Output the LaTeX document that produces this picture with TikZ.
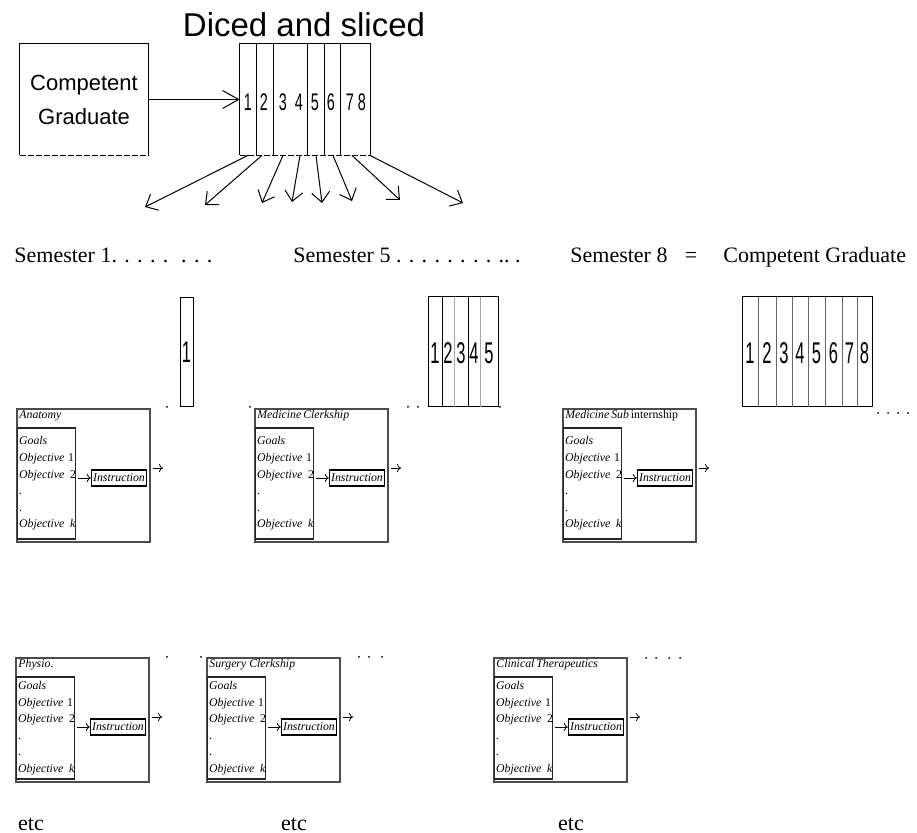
\documentclass[tikz,border=0pt]{standalone}
\usepackage{fontspec}
\setmainfont{Liberation Serif}
\newfontfamily\arialfont{Liberation Sans}
\usepackage{graphicx}
\usetikzlibrary{arrows.meta}

\newcommand{\boxfont}{\fontsize{5.9}{8.3}\selectfont\itshape}
\newcommand{\narrow}[2][0.6]{\scalebox{#1}[1]{#2}}
% one course: name, x, y, height, title
\newcommand{\course}[5]{%
  \node[coursebox, minimum height={#4*0.5pt}, anchor=north west] (#1) at (#2,#3) {};
  \node[font=\boxfont, anchor=base west, inner sep=0pt] (#1-t) at (#2+3,#3+11) {#5};
  \node[goalsbox, minimum height={(#4-22)*0.5pt}, anchor=north west] (#1-g) at (#2+1,#3+19.5)
    {Goals\\Objective~{\upshape 1}\\Objective~\,{\upshape 2}\\{\upshape .}\\{\upshape .}\\Objective~\,k};
  \node[instrbox] (#1-i) at (#2+103,#3+70) {Instruction};
  \coordinate (#1-o) at (#2+147,#3+60);
  \draw[smallarrow] (#1-g.east |- #1-i) -- (#1-i.west);
  \draw[smallarrow] (#1.east |- #1-o) -- (#1-o);
}

\begin{document}
\begin{tikzpicture}[x=0.5pt, y=-0.5pt,
  barb/.style={-{Straight Barb[length=5pt,width=9pt]}, line width=.5pt},
  smallarrow/.style={-{Computer Modern Rightarrow[length=2pt,width=4pt]}, line width=.4pt, shorten <=1pt},
  coursebox/.style={draw=black!70, line width=1pt, minimum width=66.5pt, inner sep=0pt},
  goalsbox/.style={draw=black!85, line width=.6pt, font=\boxfont, align=left, text width=27.5pt, inner xsep=.75pt, inner ysep=0pt},
  instrbox/.style={draw, line width=.7pt, font=\boxfont, inner xsep=.8pt, inner ysep=0pt, minimum height=8pt},
  digit/.style={font=\arialfont\fontsize{12}{12}\selectfont, inner sep=0pt},
  bigdigit/.style={font=\arialfont\fontsize{15}{15}\selectfont, inner sep=0pt},
  semtext/.style={font=\fontsize{11}{13}\selectfont, anchor=base west, inner sep=0pt}]
\useasboundingbox (0,0) rectangle (917,833);

\node[font=\arialfont\fontsize{16.5}{20}\selectfont, anchor=base, inner sep=0pt] (title) at (304,37) {Diced and sliced};

\node[minimum width=64pt, minimum height=55.5pt, inner sep=0pt, align=center,
  font=\arialfont\fontsize{11}{17}\selectfont] (grad) at (84,99.5) {Competent\\Graduate};
\draw[line width=.5pt] (grad.south west) -- (grad.north west) -- (grad.north east) -- (grad.south east);
\draw[line width=.5pt, dash pattern=on 3pt off 1pt] (grad.south west) -- (grad.south east);

\node[minimum width=65pt, minimum height=55.5pt, inner sep=0pt] (dice) at (305,99.5) {};
\draw[line width=.5pt] (dice.south west) -- (dice.north west) -- (dice.north east) -- (dice.south east);
\draw[line width=.5pt, dash pattern=on 3pt off 1pt] (dice.south west) -- (dice.south east);
\foreach \x in {256,273,307,324,340}
  \draw[line width=.5pt] (\x,44) -- (\x,155);
\foreach \x [count=\i] in {248,264,283,299,315,331,350,362}
  \node[digit] (d\i) at (\x,102) {\narrow{\i}};

\draw[-{Straight Barb[length=8pt,width=9pt]}, line width=.5pt] (grad.east) -- (dice.west);

\foreach \i/\dx/\ex/\ey in {1/0/145/207, 2/-2/205/205, 3/0/262/203, 4/1/292/202,
    5/1/322/203, 6/2/352/201, 7/2/400/200, 8/8/463/203} {
  \coordinate (f\i) at (\ex,\ey);
  \draw[barb] ([xshift={\dx*0.5pt}]d\i |- dice.south) -- (f\i);
}

\node[semtext] (sem1) at (14,263) {Semester 1. . . . . \ . . .};
\node[semtext] (sem5) at (293,263) {Semester 5 . . . . . . . . ..\ .};
\node[semtext] (sem8) at (570,263) {Semester 8};
\node[semtext, anchor=base] (eq) at (691,263) {=};
\node[semtext] (cg) at (723,263) {Competent Graduate};

% slices so far
\draw[line width=.5pt] (180,298) rectangle (193,407);
\node[bigdigit] (s1-1) at (186.5,352) {\narrow[.55]{1}};

\draw[line width=.5pt] (428,297) rectangle (498,407);
\foreach \x in {442,468} \draw[line width=.5pt] (\x,297) -- (\x,407);
\foreach \x in {454,480} \draw[line width=.5pt, black!35] (\x,297) -- (\x,407);
\foreach \x [count=\i] in {435,448,461,474,489}
  \node[bigdigit] (s5-\i) at (\x,353) {\narrow[.55]{\i}};

\draw[line width=.5pt] (742,297) rectangle (872,407);
\foreach \x in {758,776,792,808,825,842,857} \draw[line width=.5pt, black!60] (\x,297) -- (\x,407);
\foreach \x [count=\i] in {750,767,784,800,816.5,833.5,849.5,864.5}
  \node[bigdigit] (s8-\i) at (\x,353) {\narrow[.55]{\i}};

\course{anat}{16}{408}{133}{Anatomy}
\course{medc}{254}{408}{133}{Medicine\,Clerkship}
\course{meds}{562}{408}{133}{Medicine\,Sub\,{\upshape internship}}
\course{phys}{15}{657}{124}{Physio.}
\course{surg}{206}{657}{124}{Surgery Clerkship}
\course{clin}{493}{657}{124}{Clinical\,Therapeutics}

\foreach \x/\y in {167/407, 250/407, 408/407, 418/407, 500/407, 878/413, 888/413, 898/413, 908/413,
    167/657, 201/657, 359/657, 369/657, 382/657, 646/658, 656/658, 669/658, 680/658}
  \fill (\x,\y) circle (1);

\node[semtext, anchor=base] (etc1) at (31,831) {etc};
\node[semtext, anchor=base] (etc2) at (294,831) {etc};
\node[semtext, anchor=base] (etc3) at (571,831) {etc};
\end{tikzpicture}
\end{document}
